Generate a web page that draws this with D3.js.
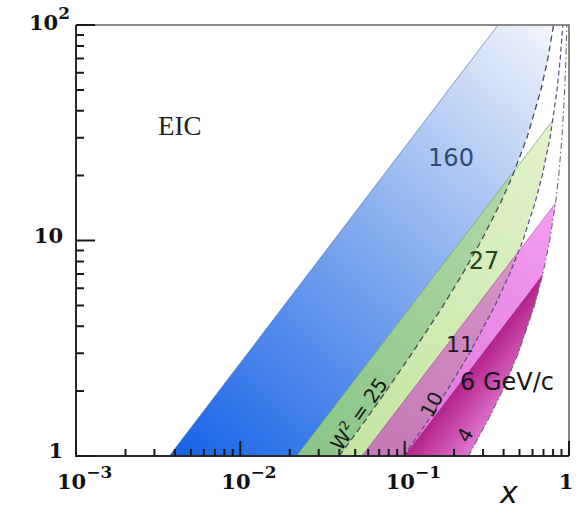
<!DOCTYPE html>
<html lang="en">
<head>
<meta charset="utf-8">
<title>EIC kinematic coverage</title>
<script src="https://cdn.jsdelivr.net/npm/d3@7"></script>
<style>
body { margin: 0; background: #fff; }
.tick-label { font-family: "DejaVu Serif", serif; font-weight: bold; font-size: 21px; fill: #111; }
.lbl { font-family: "DejaVu Sans", sans-serif; }
</style>
</head>
<body>
<script>
// axis labels
var xMajor = [1e-3, 1e-2, 1e-1, 1];
var xLabelBase = ["10", "10", "10", "1"];
var xLabelExp = ["\u22123", "\u22122", "\u22121", ""];
var yMajor = [1, 10, 100];
var yLabelBase = ["1", "10", "10"];
var yLabelExp = ["", "", "2"];

// W^2 = const curves, [x, Q^2]
var w2Names = ["25", "10", "4"];
var w25 = [[0.040, 1], [0.059, 1.5], [0.077, 2], [0.111, 3], [0.172, 5], [0.225, 7], [0.293, 10],
           [0.384, 15], [0.454, 20], [0.555, 30], [0.675, 50], [0.744, 70], [0.806, 100]];
var w10 = [[0.099, 1], [0.142, 1.5], [0.180, 2], [0.248, 3], [0.355, 5], [0.435, 7], [0.524, 10],
           [0.622, 15], [0.687, 20], [0.767, 30], [0.846, 50], [0.885, 70], [0.917, 100]];
var w4  = [[0.244, 1], [0.326, 1.5], [0.392, 2], [0.492, 3], [0.617, 5], [0.693, 7], [0.763, 10],
           [0.829, 15], [0.866, 20], [0.906, 30], [0.942, 50], [0.958, 70], [0.970, 100]];
var w2Curves = [w25, w10, w4];

// beam regions: left edge from (edgeLowX, 1) up to edgeTop, closed by a W^2 curve
var beamNames = ["160", "27", "11", "6 GeV/c"];
var edgeLowX = [0.0037, 0.022, 0.055, 0.10];
var edgeTop = [[0.37, 100], [0.799, 36.2], [0.828, 14.9], [0.69, 6.9]];
var edgeCurve = [0, 1, 2, 2];

// minor tick mantissas
var minorSteps = [2, 3, 4, 5, 6, 7, 8, 9];

var W = 585, H = 517;
var x = d3.scaleLog().domain([1e-3, 1]).range([76, 569]);
var y = d3.scaleLog().domain([1, 100]).range([456, 25]);

var svg = d3.select("body").append("svg")
    .attr("width", W)
    .attr("height", H);

var defs = svg.append("defs");

defs.append("clipPath").attr("id", "plot")
  .append("rect")
    .attr("x", x(1e-3)).attr("y", y(100))
    .attr("width", x(1) - x(1e-3)).attr("height", y(1) - y(100));

var line = d3.line().x(function(d){ return x(d[0]); }).y(function(d){ return y(d[1]); });

function regionPts(i) {
    var top = edgeTop[i];
    var right = w2Curves[edgeCurve[i]].filter(function(d){ return d[1] <= top[1]; }).slice().reverse();
    return [[edgeLowX[i], 1], top].concat(right);
}

function grad(id, p0, p1, stops) {
    var g = defs.append("linearGradient").attr("id", id)
        .attr("gradientUnits", "userSpaceOnUse")
        .attr("x1", p0[0]).attr("y1", p0[1])
        .attr("x2", p1[0]).attr("y2", p1[1]);
    stops.forEach(function(s){
        g.append("stop").attr("offset", s[0]).attr("stop-color", s[1]);
    });
}

// gradients, laid out with the scales
grad("gBlue", [x(edgeLowX[0]), y(1)], [x(w25[12][0]), y(100)],
     [[0, "#1462e8"], [0.5, "#7fa8ee"], [1, "#f3f6fb"]]);
grad("gGreen", [x(w25[0][0]), y(1)], [x(edgeTop[1][0]), y(edgeTop[1][1])],
     [[0, "#c4e5a0"], [1, "#e3f2cd"]]);
grad("gGreenDark", [x(edgeLowX[1]), y(1)], [x(edgeTop[1][0]), y(edgeTop[1][1])],
     [[0, "#89c587"], [1, "#b9dcab"]]);
grad("gPink", [x(edgeLowX[2]), y(1)], [x(edgeTop[2][0]), y(edgeTop[2][1])],
     [[0, "#e06ed8"], [1, "#f29ef2"]]);
grad("gMauve", [x(edgeLowX[2]), y(1)], [x(edgeTop[2][0]), y(edgeTop[2][1])],
     [[0, "#c477b4"], [1, "#d99bcc"]]);
// 6 GeV band: dark along the left edge, lighter towards W^2 = 4
(function(){
    var a = [x(edgeLowX[3]), y(1)], b = [x(edgeTop[3][0]), y(edgeTop[3][1])];
    var dx = b[0] - a[0], dy = b[1] - a[1], L = Math.sqrt(dx*dx + dy*dy);
    var px = -dy / L, py = dx / L;
    var wdt = (x(w4[0][0]) - a[0]) * px;
    grad("gMag", a, [a[0] + px * wdt, a[1] + py * wdt],
         [[0, "#b3238b"], [1, "#e07ad0"]]);
})();

var plot = svg.append("g").attr("clip-path", "url(#plot)");

function clipFor(id, i) {
    defs.append("clipPath").attr("id", id)
      .append("path").attr("d", line(regionPts(i)) + "Z");
}
clipFor("cBlue", 0);
clipFor("cGreen", 1);

// 160
plot.append("path").attr("d", line(regionPts(0)) + "Z")
    .attr("fill", "url(#gBlue)");
// 27
plot.append("path").attr("d", line(regionPts(1)) + "Z")
    .attr("fill", "url(#gGreen)");
plot.append("path").attr("d", line(regionPts(1)) + "Z")
    .attr("clip-path", "url(#cBlue)")
    .attr("fill", "url(#gGreenDark)");
// 11
plot.append("path").attr("d", line(regionPts(2)) + "Z")
    .attr("fill", "url(#gPink)");
plot.append("path").attr("d", line(regionPts(2)) + "Z")
    .attr("clip-path", "url(#cGreen)")
    .attr("fill", "url(#gMauve)");
// 6 GeV/c
plot.append("path").attr("d", line(regionPts(3)) + "Z")
    .attr("fill", "url(#gMag)");

// left edges
var edgeColors = ["#3d6cb8", "#5f9a5c", "#a4549a", "#9c2a80"];
edgeTop.forEach(function(t, i){
    plot.append("path").attr("d", line([[edgeLowX[i], 1], t]))
        .attr("fill", "none")
        .attr("stroke", edgeColors[i])
        .attr("stroke-opacity", 0.7)
        .attr("stroke-width", 0.9);
});

// W^2 lines
var w2Styles = [
    {c: "#4a4a55", dash: "6,4", w: 1.3},
    {c: "#5e4a80", dash: "5,3", w: 1.2},
    {c: "#6a6a6a", dash: "6,3,1.5,3", w: 1.1}
];
w2Curves.forEach(function(c, i){
    plot.append("path").attr("d", line(c))
        .attr("fill", "none")
        .attr("stroke", w2Styles[i].c)
        .attr("stroke-width", w2Styles[i].w)
        .attr("stroke-dasharray", w2Styles[i].dash);
});

// frame
svg.append("path")
    .attr("d", "M" + x(1e-3) + "," + y(100) + "H" + x(1) + "V" + y(1))
    .attr("fill", "none").attr("stroke", "#666").attr("stroke-width", 1.6);
svg.append("path")
    .attr("d", "M" + x(1e-3) + "," + y(100) + "V" + y(1) + "H" + x(1))
    .attr("fill", "none").attr("stroke", "#2a2a2a").attr("stroke-width", 2);

// ticks, pointing into the plot
var xTickD = "", yTickD = "";
[1e-3, 1e-2, 1e-1].forEach(function(dec){
    minorSteps.forEach(function(k){
        xTickD += "M" + x(k * dec).toFixed(1) + "," + y(1) + "v-7";
    });
});
xMajor.forEach(function(v){ xTickD += "M" + x(v).toFixed(1) + "," + y(1) + "v-15"; });
[1, 10].forEach(function(dec){
    minorSteps.forEach(function(k){
        yTickD += "M" + x(1e-3) + "," + y(k * dec).toFixed(1) + "h8";
    });
});
yMajor.forEach(function(v){ yTickD += "M" + x(1e-3) + "," + y(v).toFixed(1) + "h19"; });
svg.append("path").attr("d", xTickD)
    .attr("fill", "none").attr("stroke", "#1a1a1a").attr("stroke-width", 2);
svg.append("path").attr("d", yTickD)
    .attr("fill", "none").attr("stroke", "#1a1a1a").attr("stroke-width", 2);

// tick labels
xMajor.forEach(function(v, i){
    var t = svg.append("text").attr("class", "tick-label")
        .attr("x", xLabelExp[i] ? x(v) - 19 : x(v) - 3)
        .attr("y", 489)
        .attr("text-anchor", xLabelExp[i] ? "start" : "middle");
    t.append("tspan").text(xLabelBase[i]);
    if (xLabelExp[i]) t.append("tspan").attr("dy", -11).attr("font-size", 17).text(xLabelExp[i]);
});
yMajor.forEach(function(v, i){
    var t = svg.append("text").attr("class", "tick-label")
        .attr("x", yLabelExp[i] ? 70 : 63)
        .attr("y", y(v) + (i == 2 ? 5 : 2))
        .attr("text-anchor", "end");
    t.append("tspan").text(yLabelBase[i]);
    if (yLabelExp[i]) t.append("tspan").attr("dy", -11).attr("font-size", 17).text(yLabelExp[i]);
});

svg.append("text").attr("class", "lbl")
    .attr("x", 500).attr("y", 503)
    .attr("font-size", 30).attr("font-style", "italic").attr("fill", "#111")
    .text("x");

svg.append("text")
    .attr("x", 158).attr("y", 135)
    .attr("font-family", "Liberation Serif, serif").attr("font-size", 27).attr("fill", "#222")
    .text("EIC");

// beam labels
var beamPos = [[451, 166, 24, "#2c4c7c"], [484, 269, 24, "#1d481d"], [460, 352, 22, "#221622"], [460, 390, 24, "#151515"]];
beamNames.forEach(function(n, i){
    var p = beamPos[i];
    svg.append("text").attr("class", "lbl")
        .attr("x", p[0]).attr("y", p[1])
        .attr("text-anchor", i == 3 ? "start" : "middle")
        .attr("font-size", p[2]).attr("fill", p[3])
        .text(n);
});

// W^2 labels along the curves
var wl = svg.append("text").attr("class", "lbl")
    .attr("transform", "translate(341,452) rotate(-55)")
    .attr("font-size", 20).attr("fill", "#1a1a1a");
wl.append("tspan").text("W");
wl.append("tspan").attr("dy", -8).attr("font-size", 13).text("2");
wl.append("tspan").attr("dy", 8).text(" = " + w2Names[0]);
svg.append("text").attr("class", "lbl")
    .attr("transform", "translate(432,419) rotate(-62)")
    .attr("font-size", 20).attr("fill", "#1a1a1a")
    .text(w2Names[1]);
svg.append("text").attr("class", "lbl")
    .attr("transform", "translate(468,444) rotate(-60)")
    .attr("font-size", 20).attr("fill", "#1a1a1a")
    .text(w2Names[2]);
</script>
</body>
</html>
